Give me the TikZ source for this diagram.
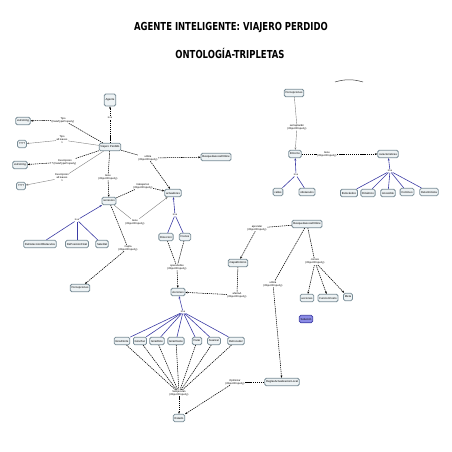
\documentclass[tikz,border=0pt]{standalone}
\usepackage{fontspec}
\setmainfont{Liberation Sans}
\newfontfamily\titlefont{DejaVu Sans}
\usetikzlibrary{arrows.meta, positioning}
\definecolor{conceptfill}{RGB}{238,243,245}
\definecolor{conceptline}{RGB}{120,140,150}
\definecolor{isablue}{RGB}{60,60,165}
\definecolor{solfill}{RGB}{140,140,230}
\newcommand{\titletext}[1]{\scalebox{0.77}[1]{\titlefont\fontsize{11}{13}\selectfont\bfseries #1}}
\begin{document}
\begin{tikzpicture}[x=1pt,y=-1pt,
                    >={Stealth[length=2.4pt,width=1.9pt]},
                    concept/.style={rectangle, rounded corners=1.5pt, draw=conceptline, fill=conceptfill,
                                    line width=0.8pt, inner sep=1.3pt, minimum height=7.5pt,
                                    font=\fontsize{2.8}{3.2}\selectfont},
                    prop/.style={inner sep=0.4pt, align=center, font=\fontsize{2.6}{3}\selectfont},
                    objrel/.style={line width=0.55pt, dash pattern=on 1.3pt off 0.8pt},
                    plainrel/.style={line width=0.4pt, draw=gray},
                    isarel/.style={line width=0.6pt, draw=isablue}]
    \useasboundingbox (0,0) rectangle (452,452);
    % title
    \node (title)    at (231,28) {\titletext{AGENTE INTELIGENTE: VIAJERO PERDIDO}};
    \node (subtitle) at (230,53) {\titletext{ONTOLOGÍA-TRIPLETAS}};
    \draw[line width=0.5pt, draw=darkgray] (335,82) .. controls (345,79) and (353,79) .. (363,82);

    % concepts
    \node (agente)     [concept, minimum height=12pt] at (110,100) {Agente};
    \node (viajero)    [concept] at (110,147) {Viajero Perdido};
    \node (xsdA)       [concept] at (23,121)  {xsd:string};
    \node (leafA)      [concept] at (22,144)  {????};
    \node (xsdB)       [concept] at (20,165)  {xsd:string};
    \node (leafB)      [concept] at (21,186)  {????};
    \node (busqA)      [concept] at (216,157) {BusquedaLocalOnline};
    \node (sensores)   [concept] at (109,201) {sensores};
    \node (actuadores) [concept] at (173,193) {actuadores};
    \node (direccion)  [concept] at (166,237) {Direccion};
    \node (frenos)     [concept] at (185,237) {Frenos};
    \node (acciones)   [concept] at (178,292) {Acciones};
    \node (mapa)       [concept] at (238,263) {mapaEntorno};
    \node (busqB)      [concept] at (307,224) {BusquedaLocalOnline};
    \node (accs)       [concept] at (307,298) {acciones};
    \node (costo)      [concept] at (328,298) {FuncionCosto};
    \node (meta)       [concept] at (348,297) {Meta};
    \node (solucion)   [concept, fill=solfill, draw=isablue] at (306,319) {Solución};
    \node (reglas)     [concept] at (282,382) {ReglasActualizacionLocal};
    \node (estado)     [concept] at (179,418) {Estado};
    \node (deteccion)  [concept] at (40,244)  {DeDeteccionObstaculos};
    \node (posicion)   [concept] at (77,244)  {DePosicionFinal};
    \node (satelital)  [concept] at (102,244) {Satelital};
    \node (percA)      [concept] at (80,288)  {Percepciones};
    \node (percB)      [concept] at (294,93)  {Percepciones};
    \node (entorno)    [concept] at (295,154) {Entorno};
    \node (carac)      [concept] at (388,154) {caracteristicas};
    \node (calles)     [concept] at (278,192) {calles};
    \node (obstaculos) [concept] at (307,192) {obstaculos};
    \node (estocastico)[concept] at (349,193) {Estocástico};
    \node (dinamico)   [concept] at (368,193) {Dinámico};
    \node (accesible)  [concept] at (388,193) {Accesible};
    \node (continuo)   [concept] at (407,192) {Continuo};
    \node (determ)     [concept] at (429,192) {Determinista};
    \node (gnorte)     [concept] at (122,341) {GirarNorte};
    \node (gsur)       [concept] at (140,341) {GirarSur};
    \node (geste)      [concept] at (157,341) {GirarEste};
    \node (goeste)     [concept] at (176,341) {GirarOeste};
    \node (parar)      [concept] at (197,341) {Parar};
    \node (avanzar)    [concept] at (214,341) {Avanzar};
    \node (retro)      [concept] at (236,341) {Retroceder};

    % relation labels
    \node (lIsaA)     [prop] at (110,118) {is-a};
    \node (lTipo)     [prop] at (63,120)  {Tipo\\(DataTypeProperty)};
    \node (lTipoAll)  [prop] at (62,140)  {Tipo\\all leaves\\1};
    \node (lDesc)     [prop] at (65,162)  {Descripcion\\(DataTypeProperty)};
    \node (lDescAll)  [prop] at (62,178)  {Descripcion\\all leaves\\1};
    \node (lUtiliza)  [prop] at (148,158) {utiliza\\(ObjectProperty)};
    \node (lTiene)    [prop] at (108,177) {tiene\\(ObjectProperty)};
    \node (lTrabaja)  [prop] at (143,186) {trabajaCon\\(ObjectProperty)};
    \node (lTieneB)   [prop] at (135,222) {tiene\\(ObjectProperty)};
    \node (lIsaS)     [prop] at (77,220)  {is-a};
    \node (lCapta)    [prop] at (128,248) {Capta\\(ObjectProperty)};
    \node (lIsaAct)   [prop] at (175,215) {is-a};
    \node (lOpera)    [prop] at (177,267) {operaSobre\\(ObjectProperty)};
    \node (lAprender) [prop] at (257,228) {aprender\\(ObjectProperty)};
    \node (lAfecta)   [prop] at (237,295) {afectaA\\(ObjectProperty)};
    \node (lConoce)   [prop] at (315,262) {conoce\\(ObjectProperty)};
    \node (lUtilizaB) [prop] at (273,284) {utiliza\\(ObjectProperty)};
    \node (lIsaAcc)   [prop] at (183,312) {is-a};
    \node (lEjecutan) [prop] at (179,393) {SeEjecutan\\(ObjectProperty)};
    \node (lOptim)    [prop] at (235,382) {Optimizar\\(ObjectProperty)};
    \node (lCaptan)   [prop] at (297,127) {seCaptanEn\\(ObjectProperty)};
    \node (lTieneE)   [prop] at (327,154) {tiene\\(ObjectProperty)};
    \node (lIsaE)     [prop] at (296,175) {is-a};
    \node (lIsaC)     [prop] at (390,171) {is-a};

    % object and datatype properties
    \path[objrel] (viajero) edge (lIsaA) edge (lTipo) edge (lDesc) edge (lUtiliza) edge (lTiene)
                  (sensores) edge (lTrabaja) edge (lCapta)
                  (direccion) edge (lOpera) (frenos) edge (lOpera)
                  (busqB) edge (lAprender) edge (lConoce) edge (lUtilizaB)
                  (mapa) edge (lAfecta)
                  (reglas) edge (lOptim)
                  (entorno) edge (lTieneE);
    \path[objrel,->] (lIsaA) edge (agente)
                     (lTipo) edge (xsdA)
                     (lDesc) edge (xsdB)
                     (lUtiliza) edge (busqA) edge (actuadores)
                     (lTiene) edge (sensores)
                     (lTrabaja) edge (actuadores)
                     (lCapta) edge (percA)
                     (lOpera) edge (acciones)
                     (lAprender) edge (mapa)
                     (lAfecta) edge (acciones)
                     (lConoce) edge (accs) edge (costo) edge (meta)
                     (lUtilizaB) edge (reglas)
                     (lEjecutan) edge (estado)
                     (lOptim) edge (estado)
                     (lTieneE) edge (carac);
    \path[objrel] (gnorte) edge (lEjecutan) (gsur) edge (lEjecutan) (geste) edge (lEjecutan)
                  (goeste) edge (lEjecutan) (parar) edge (lEjecutan) (avanzar) edge (lEjecutan)
                  (retro) edge (lEjecutan);

    % plain relations
    \path[plainrel] (viajero) edge (lTipoAll) edge (lDescAll)
                    (sensores) edge (lTieneB)
                    (percB) edge (lCaptan);
    \path[plainrel,->] (lTipoAll) edge (leafA)
                       (lDescAll) edge (leafB)
                       (lTieneB) edge (actuadores)
                       (lCaptan) edge (entorno);

    % subclasses
    \path[isarel] (deteccion) edge (lIsaS) (posicion) edge (lIsaS) (satelital) edge (lIsaS)
                  (direccion) edge (lIsaAct) (frenos) edge (lIsaAct)
                  (calles) edge (lIsaE) (obstaculos) edge (lIsaE)
                  (estocastico) edge (lIsaC) (dinamico) edge (lIsaC) (accesible) edge (lIsaC)
                  (continuo) edge (lIsaC) (determ) edge (lIsaC)
                  (gnorte) edge (lIsaAcc) (gsur) edge (lIsaAcc) (geste) edge (lIsaAcc)
                  (goeste) edge (lIsaAcc) (parar) edge (lIsaAcc) (avanzar) edge (lIsaAcc)
                  (retro) edge (lIsaAcc);
    \path[isarel,->] (lIsaS) edge (sensores)
                     (lIsaAct) edge (actuadores)
                     (lIsaE) edge (entorno)
                     (lIsaC) edge (carac)
                     (lIsaAcc) edge (acciones);
\end{tikzpicture}
\end{document}
